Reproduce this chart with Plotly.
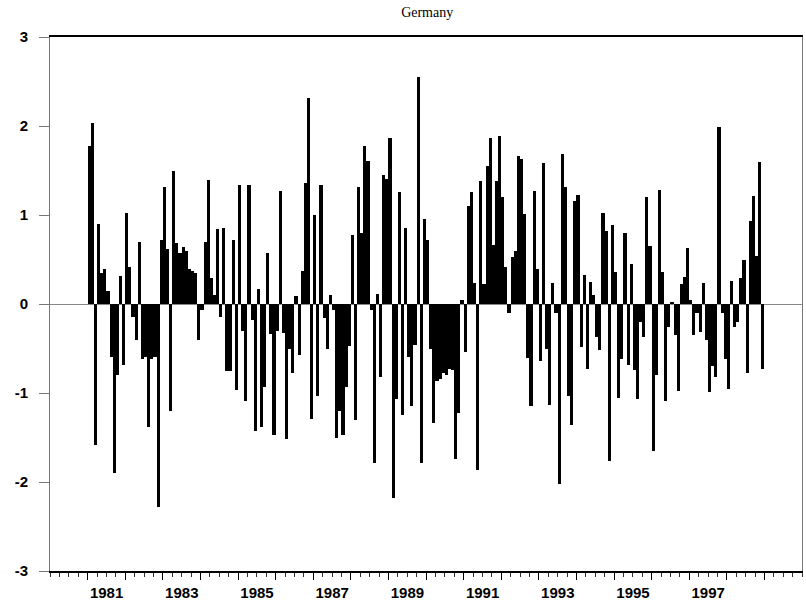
import plotly.graph_objects as go

# Monthly values, Jan 1981 - Dec 1998
start_year = 1981
values_1981_1987 = [
    1.78, 2.03, -1.58, 0.90, 0.35, 0.39, 0.15, -0.60, -1.90, -0.80,
    0.31, -0.69, 1.02, 0.42, -0.15, -0.40, 0.70, -0.62, -0.60, -1.38,
    -0.62, -0.60, -2.28, 0.72, 1.32, 0.62, -1.20, 1.50, 0.68, 0.57,
    0.64, 0.60, 0.39, 0.37, 0.35, -0.40, -0.07, 0.70, 1.39, 0.29,
    0.10, 0.84, -0.15, 0.85, -0.75, -0.75, 0.72, -0.97, 1.34, -0.30,
    -1.09, 1.34, -0.18, -1.43, 0.17, -1.38, -0.93, 0.57, -0.34, -1.47,
    -0.30, 1.27, -0.33, -1.52, -0.50, -0.77, 0.09, -0.57, 0.37, 1.36,
    2.31, -1.29, 1.00, -1.03, 1.34,
]
values_1987_1993 = [
    -0.16, -0.51, 0.10, -0.07, -1.51, -1.20, -1.47, -0.93, -0.47, 0.77,
    -1.30, 1.32, 0.80, 1.78, 1.61, -0.07, -1.79, 0.11, -0.82, 1.45,
    1.40, 1.87, -2.18, -1.07, 1.26, -1.25, 0.85, -0.60, -1.15, -0.46,
    2.55, -1.79, 0.96, 0.72, -0.51, -1.34, -0.87, -0.84, -0.78, -0.80,
    -0.73, -0.74, -1.74, -1.22, 0.05, -0.54, 1.10, 1.26, 0.24, -1.86,
    1.38, 0.22, 1.55, 1.86, 0.66, 1.38, 1.89, 1.20, 0.42, -0.10,
    0.53, 0.59, 1.66, 1.63, 1.01, -0.61, -1.15, 1.27, 0.39, -0.64,
    1.58, -0.50, -1.14, 0.24, -0.10, -2.02,
]
values_1993_1998 = [
    1.69, 1.32, -1.03, -1.36, 1.16, 1.23, -0.48, 0.33, -0.73, 0.25,
    0.10, -0.37, -0.52, 1.02, 0.82, -1.76, 0.89, 0.36, -1.06, -0.62,
    0.80, -0.68, 0.45, -0.74, -1.07, -0.20, -0.37, 1.20, 0.65, -1.65,
    -0.80, 1.28, 0.36, -1.09, -0.26, 0.02, -0.35, -0.98, 0.22, 0.30,
    0.63, 0.05, -0.35, -0.10, -0.32, 0.24, -0.41, -0.99, -0.70, -0.82,
    1.99, -0.10, -0.62, -0.96, 0.26, -0.26, -0.20, 0.29, 0.49, -0.77,
    0.93, 1.21, 0.54, 1.60, -0.73,
]
values = values_1981_1987 + values_1987_1993 + values_1993_1998

year_ticks = list(range(1981, 2000))
label_years = [1981, 1983, 1985, 1987, 1989, 1991, 1993, 1995, 1997]
y_ticks = [-3, -2, -1, 0, 1, 2, 3]

x = [start_year + (i + 0.5) / 12 for i in range(len(values))]

fig = go.Figure(go.Bar(
    x=x, y=values, width=1 / 12,
    marker=dict(color="black", line=dict(width=0)),
))

tick_font = dict(family="Liberation Sans, Arial, sans-serif", size=15, color="black", weight="bold")

fig.update_layout(
    width=806, height=604,
    margin=dict(l=50, r=3, t=37, b=31),
    paper_bgcolor="white", plot_bgcolor="white",
    showlegend=False, bargap=0,
    title=dict(text="Germany", x=0.53, xanchor="center", y=1 - 12 / 604, yanchor="middle",
               font=dict(family="Liberation Serif, Times New Roman, serif", size=14, color="black")),
    xaxis=dict(
        range=[1980, 2000],
        tickmode="array", tickvals=year_ticks,
        ticktext=[str(y) if y in label_years else "" for y in year_ticks],
        ticklabelshift=19,
        ticks="outside", ticklen=7, tickcolor="black", tickwidth=1,
        minor=dict(dtick=0.25, tick0=1980, ticks="outside", ticklen=4, tickcolor="#333", showgrid=False),
        showgrid=False, zeroline=False,
        showline=True, linecolor="black", linewidth=2, mirror=True,
        tickfont=tick_font,
    ),
    yaxis=dict(
        range=[-3, 3],
        tickmode="array", tickvals=y_ticks, ticktext=[str(v) for v in y_ticks],
        ticks="outside", ticklen=10, tickcolor="#777", tickwidth=1,
        ticklabelstandoff=8,
        showgrid=False,
        zeroline=True, zerolinecolor="#888", zerolinewidth=1,
        showline=True, linecolor="#777", linewidth=1, mirror=True,
        tickfont=tick_font,
    ),
)

fig.write_html("out.html")
